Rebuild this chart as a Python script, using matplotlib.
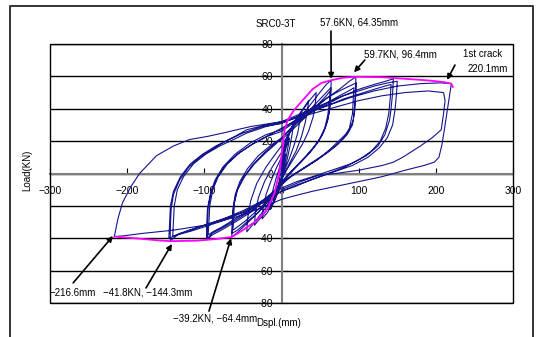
import numpy as np
import matplotlib.pyplot as plt
from matplotlib.patches import Rectangle
from matplotlib.lines import Line2D

plt.rcParams['font.family'] = ['Liberation Sans', 'DejaVu Sans']

# hysteresis loops: (displacement mm, load kN)
loop_05 = [(0, 0), (2, 6), (4, 10), (5, 12), (4, 9), (2, 3), (0, -2), (-2, -6), (-4, -9), (-5, -10),
           (-4, -7), (-2, -2), (0, 2)]
loop_10 = [(0, 2), (3, 10), (6, 16), (9, 20), (10, 22), (9, 18), (6, 10), (3, 3), (0, -4), (-3, -9),
           (-6, -13), (-9, -16), (-10, -17), (-9, -13), (-6, -6), (-3, 0), (0, 6)]
loop_15 = [(0, 6), (4, 14), (8, 21), (12, 27), (15, 30), (14, 25), (11, 17), (7, 8), (3, 1), (0, -5),
           (-4, -11), (-8, -16), (-12, -20), (-15, -22), (-14, -17), (-11, -10), (-7, -3), (-3, 3), (0, 9)]
loop_25 = [(0, 9), (5, 18), (10, 25), (16, 31), (21, 35), (25, 38), (24, 33), (21, 25), (16, 17), (10, 9),
           (4, 2), (0, -4), (-6, -12), (-12, -19), (-18, -24), (-25, -28), (-24, -22), (-20, -13),
           (-14, -5), (-7, 3), (0, 10)]
loop_35 = [(0, 10), (6, 20), (12, 27), (20, 34), (28, 40), (35, 45), (34, 40), (31, 32), (26, 23), (19, 14),
           (10, 6), (3, -1), (0, -4), (-8, -13), (-16, -20), (-24, -26), (-30, -29), (-35, -32), (-34, -25),
           (-30, -15), (-22, -5), (-12, 4), (0, 13)]
loop_45 = [(0, 13), (8, 23), (16, 30), (26, 38), (36, 45), (45, 50), (44, 44), (41, 35), (35, 26), (27, 18),
           (18, 11), (9, 4), (0, -3), (-10, -13), (-20, -21), (-30, -27), (-38, -32), (-45, -36), (-44, -28),
           (-40, -17), (-32, -6), (-20, 4), (-8, 12), (0, 17)]
loop_64a = [(0, 17), (10, 25), (22, 33), (35, 41), (48, 49), (58, 55), (64.35, 57.6), (64, 50), (63, 42),
            (60, 33), (55, 26), (47, 19), (37, 13), (25, 7), (12, 1), (0, -5), (-15, -15), (-30, -24),
            (-45, -31), (-56, -36), (-64.4, -39.2), (-64, -32), (-63, -22), (-60, -13), (-54, -5), (-44, 3),
            (-30, 11), (-15, 17), (0, 22)]
loop_64b = [(0, 22), (12, 28), (25, 34), (38, 40), (50, 46), (58, 50), (64, 53), (63, 46), (62, 38), (58, 30),
            (52, 23), (43, 17), (32, 11), (20, 5), (8, -1), (0, -6), (-15, -16), (-30, -24), (-45, -30),
            (-57, -35), (-64, -37), (-63, -29), (-62, -20), (-58, -11), (-50, -3), (-38, 5), (-22, 13),
            (-10, 18), (0, 21)]
loop_64c = [(0, 21), (12, 26), (25, 32), (38, 38), (50, 44), (58, 48), (63, 51), (62, 44), (60, 36), (56, 28),
            (49, 21), (40, 15), (29, 9), (17, 3), (6, -3), (0, -7), (-16, -16), (-32, -23), (-46, -29),
            (-57, -33), (-63, -35), (-62, -27), (-61, -18), (-57, -10), (-48, -2), (-35, 6), (-20, 13),
            (-8, 18), (0, 22)]
loop_96a = [(0, 22), (15, 29), (30, 35), (45, 41), (60, 47), (75, 52), (88, 57), (96.4, 59.7), (96, 52),
            (95, 43), (93, 33), (87, 26), (76, 21), (63, 15), (48, 9), (32, 4), (15, -1), (0, -6),
            (-20, -16), (-40, -24), (-60, -30), (-78, -35), (-90, -38), (-97, -41), (-97, -33), (-96, -22),
            (-92, -12), (-86, -4), (-76, 4), (-60, 12), (-40, 19), (-20, 24), (0, 27)]
loop_96b = [(0, 27), (15, 32), (30, 37), (45, 42), (60, 47), (75, 51), (88, 54), (97, 56), (96, 48), (95, 39),
            (92, 30), (85, 24), (73, 18), (60, 13), (45, 8), (28, 3), (12, -2), (0, -7), (-20, -16),
            (-40, -23), (-60, -29), (-78, -34), (-90, -37), (-96, -40), (-96, -32), (-95, -21), (-91, -11),
            (-84, -3), (-73, 5), (-57, 12), (-38, 18), (-18, 23), (0, 26)]
loop_96c = [(0, 26), (15, 31), (30, 35), (45, 40), (60, 44), (75, 48), (87, 51), (94, 53), (93, 46), (92, 37),
            (88, 28), (81, 22), (70, 17), (56, 12), (40, 7), (24, 2), (8, -3), (0, -7), (-20, -15),
            (-40, -22), (-60, -28), (-77, -33), (-89, -36), (-95, -38), (-94, -30), (-93, -20), (-89, -10),
            (-82, -2), (-70, 6), (-54, 13), (-35, 19), (-15, 24), (0, 28)]
loop_145a = [(0, 28), (20, 33), (40, 38), (60, 43), (80, 48), (100, 52), (120, 55), (135, 57), (145, 58.5),
             (144, 50), (142, 40), (140, 33), (134, 24), (125, 17), (110, 11), (90, 6), (65, 2), (40, -2),
             (20, -5), (0, -9), (-25, -17), (-50, -23), (-75, -28), (-100, -32), (-120, -35), (-135, -38),
             (-144.3, -41.8), (-144, -33), (-143, -22), (-140, -13), (-132, -4), (-120, 4), (-106, 10),
             (-90, 15), (-76, 19), (-60, 23), (-45, 27), (-20, 30), (0, 32)]
loop_145b = [(0, 32), (20, 36), (40, 40), (60, 44), (80, 48), (100, 51), (120, 54), (138, 56), (150, 57),
             (149, 49), (147, 39), (144, 30), (137, 22), (127, 16), (112, 10), (92, 5), (68, 1), (44, -3),
             (20, -7), (0, -11), (-25, -18), (-50, -24), (-75, -29), (-100, -33), (-120, -36), (-136, -38),
             (-146, -40), (-145, -31), (-144, -20), (-140, -11), (-131, -2), (-118, 6), (-102, 12), (-85, 17),
             (-68, 21), (-50, 25), (-25, 29), (0, 31)]
loop_145c = [(0, 31), (20, 35), (40, 39), (60, 42), (80, 46), (100, 49), (120, 52), (134, 54), (142, 55),
             (141, 47), (139, 37), (135, 28), (128, 20), (117, 14), (102, 9), (82, 4), (60, 0), (38, -4),
             (18, -8), (0, -11), (-25, -18), (-50, -24), (-75, -28), (-100, -32), (-118, -35), (-132, -37),
             (-141, -39), (-140, -30), (-139, -20), (-135, -10), (-127, -2), (-114, 6), (-98, 12), (-80, 17),
             (-62, 21), (-45, 25), (-20, 29), (0, 31)]
loop_220 = [(0, 31), (30, 37), (60, 42), (90, 47), (120, 51), (150, 54), (180, 55.5), (205, 56), (220.1, 55.5),
            (219, 52), (216, 42), (212, 30), (208, 18), (204, 10), (198, 7), (185, 5), (160, 2), (130, -2),
            (100, -5), (70, -8), (40, -11), (15, -14), (0, -16), (-30, -22), (-60, -27), (-100, -32),
            (-140, -35), (-180, -37), (-205, -38.5), (-216.6, -39), (-212, -28), (-206, -18), (-195, -8),
            (-184, 0), (-172, 6), (-162, 11), (-140, 17), (-119, 21), (-95, 23), (-76, 25), (-40, 29),
            (0, 32), (10, 33)]
loop_220b = [(10, 33), (40, 37), (70, 41), (100, 45), (130, 48), (160, 50), (190, 51), (210, 50), (212, 45),
             (210, 37), (207, 27), (195, 22), (180, 17), (167, 13), (157, 10), (145, 7), (131, 5), (100, 2),
             (70, 0), (49, -1), (25, -5), (0, -10)]

loops = [loop_05, loop_10, loop_15, loop_25, loop_35, loop_45, loop_64a, loop_64b, loop_64c,
         loop_96a, loop_96b, loop_96c, loop_145a, loop_145b, loop_145c, loop_220, loop_220b]

# envelope (magenta)
env_x = [-216.6, -190, -160, -144.3, -110, -85, -64.4, -50, -32, -19, -9, -3, 1, 4, 8, 16, 27, 40, 52,
         64.35, 80, 96.4, 130, 160, 190, 210, 220.1, 222]
env_y = [-39, -40, -41.3, -41.8, -41.5, -40.5, -39.2, -35, -29, -22.6, -12, 0, 14.5, 27, 33, 39, 45, 52, 56,
         57.6, 59.2, 59.7, 59.5, 58.5, 57.5, 56.5, 55.5, 53.5]

x_ticks = [-300, -200, -100, 0, 100, 200, 300]
y_ticks = [-80, -60, -40, -20, 0, 20, 40, 60, 80]

fig = plt.figure(figsize=(5.36, 3.37), dpi=100)
ax = fig.add_axes([50 / 536, 1 - 303 / 337, 463 / 536, 259 / 337])

pts = np.array([p for lp in loops for p in lp])
ax.plot(pts[:, 0], pts[:, 1], color='#14148c', lw=0.8, zorder=3)
ax.plot(env_x, env_y, color='#ff00ff', lw=1.3, zorder=4)

ax.set_xlim(-300, 300)
ax.set_ylim(-80, 80)
ax.set_xticks(x_ticks)
ax.set_yticks(y_ticks)
ax.yaxis.grid(True, color='black', lw=1)

for s in ['top', 'right']:
    ax.spines[s].set_visible(False)
for s in ['left', 'bottom']:
    ax.spines[s].set_position(('data', 0))
    ax.spines[s].set_color('#808080')
    ax.spines[s].set_linewidth(1.5)
ax.tick_params(axis='x', direction='in', length=4, pad=9, labelsize=7.5, color='black')
ax.tick_params(axis='y', direction='in', length=4, pad=6, labelsize=7.5, color='black')
ax.add_patch(Rectangle((0, 0), 1, 1, transform=ax.transAxes, fill=False, ec='black', lw=1,
                       clip_on=False, zorder=5))

# outer frame
fig.add_artist(Line2D([10 / 536, 10 / 536, 533 / 536, 533 / 536], [-0.05, 1 - 6 / 337, 1 - 6 / 337, -0.05],
                      transform=fig.transFigure, color='#333333', lw=1.4))

fs = 7
ax.text(-7, 92.4, 'SRC0-3T', ha='center', va='center', fontsize=fs, clip_on=False)
ax.text(-33, -92.3, 'Dspl.(mm)', ha='left', va='center', fontsize=fs, clip_on=False)
fig.text(27 / 536, 1 - 170 / 337, 'Load(KN)', rotation=90, ha='center', va='center', fontsize=fs)

notes = [
    ('57.6KN, 64.35mm', (100, 93.0), (64.1, 88), (64.35, 58.5)),
    ('59.7KN, 96.4mm', (153.6, 73.8), (108, 70.1), (94, 62.5)),
    ('1st crack', (260, 73.8), (224.8, 67), (214.5, 57.8)),
    ('\u2212216.6mm', (-270, -73.8), (-270, -67.6), (-218.4, -38.6)),
    ('\u221241.8KN, \u2212144.3mm', (-173, -73.8), (-175.6, -70.7), (-142, -43.5)),
    ('\u221239.2KN, \u221264.4mm', (-86, -89.3), (-94, -85), (-65.4, -40)),
]
for label, txy, tail, head in notes:
    ax.text(txy[0], txy[1], label, ha='center', va='center', fontsize=fs, clip_on=False)
    ax.annotate('', xy=head, xytext=tail, annotation_clip=False,
                arrowprops=dict(arrowstyle='-|>', color='black', lw=1.2, mutation_scale=8,
                                shrinkA=0, shrinkB=0))
ax.text(267.6, 64.6, '220.1mm', ha='center', va='center', fontsize=fs, clip_on=False)

fig.savefig('out.png', dpi=100)
